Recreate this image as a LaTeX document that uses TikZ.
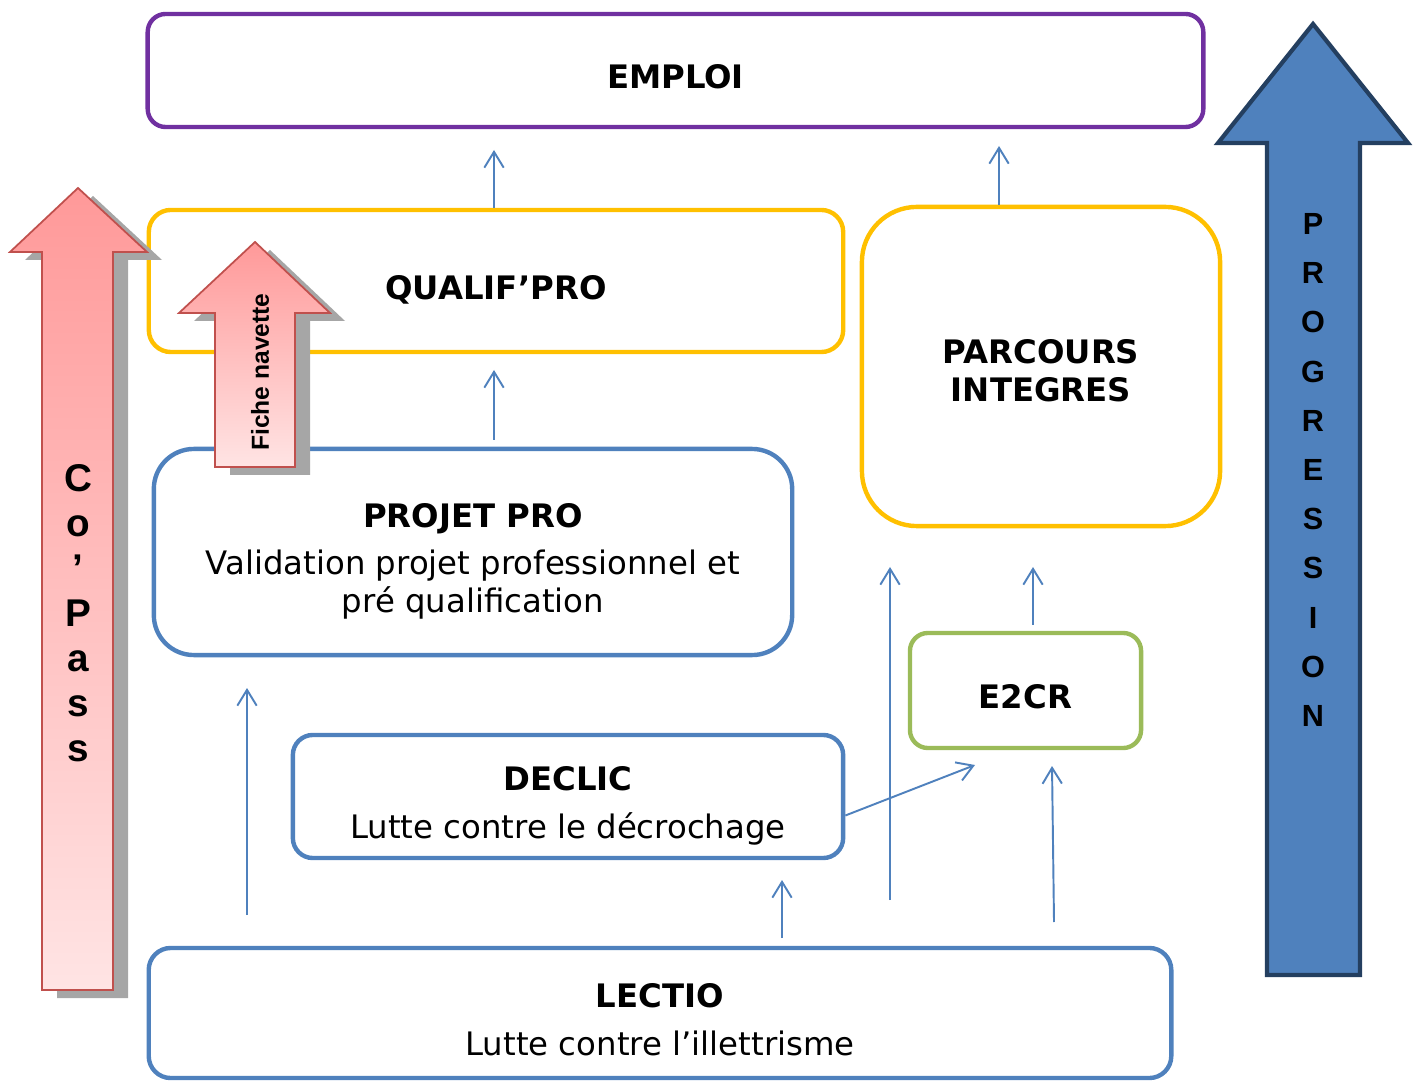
\documentclass[tikz,border=0pt]{standalone}
\usepackage{fontspec}
\setmainfont{DejaVu Sans}
\newfontfamily\arrowfont{Liberation Sans}
\usetikzlibrary{arrows.meta,calc}
\definecolor{job-purple}{HTML}{7030A0}
\definecolor{qualif-yellow}{HTML}{FFC000}
\definecolor{path-blue}{HTML}{4F81BD}
\definecolor{school-green}{HTML}{9BBB59}
\definecolor{pass-red}{HTML}{C0504D}
\definecolor{pass-top}{HTML}{FF9999}
\definecolor{pass-bottom}{HTML}{FFE4E4}
\definecolor{progress-edge}{HTML}{243F60}
\newcommand\boxstrut[1][10.3pt]{\rule{0pt}{#1}}
\tikzset{
    rounded-box/.style = {draw, fill=white, line width=1.25pt, rectangle, align=center, inner sep=0pt, font=\fontsize{9.2}{10.8}\selectfont},
    link-arrow/.style = {draw=path-blue, line width=0.55pt, -{Straight Barb[length=4.5pt,width=5.5pt]}},
    pass-arrow/.style = {draw=pass-red, line width=0.5pt, top color=pass-top, bottom color=pass-bottom},
    pass-shadow/.style = {fill=black!35, draw=none},
    arrow-text/.style = {font=\arrowfont\bfseries, align=center, inner sep=0pt},
}
\begin{document}
\begin{tikzpicture}[x=0.01cm,y=-0.01cm]
\useasboundingbox (0,0) rectangle (1416,1083);

\node[rounded-box, draw=job-purple, rounded corners=0.18cm, minimum width=10.55cm, minimum height=1.13cm] (emploi) at (675.5,70.5) {\boxstrut\textbf{EMPLOI}};
\node[rounded-box, draw=qualif-yellow, rounded corners=0.22cm, minimum width=6.94cm, minimum height=1.42cm] (qualif) at (496,281) {\boxstrut[11.8pt]\textbf{QUALIF’PRO}};
\node[rounded-box, draw=qualif-yellow, rounded corners=0.55cm, minimum width=3.58cm, minimum height=3.19cm] (parcours) at (1041,366.5) {\boxstrut[9pt]\textbf{PARCOURS}\\\textbf{INTEGRES}};
\node[rounded-box, draw=path-blue, rounded corners=0.4cm, minimum width=6.38cm, minimum height=2.06cm] (projet) at (473,552) {\boxstrut[12pt]\textbf{PROJET PRO}\\[2.6pt]Validation projet professionnel et\\pré qualification};
\node[rounded-box, draw=path-blue, rounded corners=0.2cm, minimum width=5.50cm, minimum height=1.23cm] (declic) at (568,796.5) {\boxstrut[12.3pt]\textbf{DECLIC}\\[2.8pt]Lutte contre le décrochage};
\node[rounded-box, draw=school-green, rounded corners=0.18cm, minimum width=2.31cm, minimum height=1.15cm] (e2cr) at (1025.5,690.5) {\boxstrut\textbf{E2CR}};
\node[rounded-box, draw=path-blue, rounded corners=0.22cm, minimum width=10.22cm, minimum height=1.30cm] (lectio) at (660,1013) {\boxstrut[10.8pt]\textbf{LECTIO}\\[2.8pt]Lutte contre l’illettrisme};

\coordinate (qe) at (494,150);
\coordinate (pe) at (999,146);
\coordinate (pq) at (494,370);
\coordinate (ep) at (1033,567);
\coordinate (de) at (975,765);
\coordinate (lp-bot) at (247,915);
\coordinate (lp-top) at (247,688);
\coordinate (ld-bot) at (782,938);
\coordinate (ld-top) at (782,880);
\coordinate (lv-bot) at (890,900);
\coordinate (lv-top) at (890,567);
\coordinate (le-bot) at (1054,922);
\coordinate (le-top) at (1052,766);

\draw[link-arrow] (qualif.north -| qe) -- (qe);
\draw[link-arrow] (parcours.north -| pe) -- (pe);
\draw[link-arrow] ($(projet.north -| pq)+(0,-7)$) -- (pq);
\draw[link-arrow] ($(e2cr.north -| ep)+(0,-6)$) -- (ep);
\draw[link-arrow] ($(declic.east)+(0,19)$) -- (de);
\draw[link-arrow] (lp-bot) -- (lp-top);
\draw[link-arrow] (ld-bot) -- (ld-top);
\draw[link-arrow] (lv-bot) -- (lv-top);
\draw[link-arrow] (le-bot) -- (le-top);

\fill[pass-shadow] (57,998) -- (57,260) -- (25,260) -- (93,196) -- (162,260) -- (128,260) -- (128,998) -- cycle;
\draw[pass-arrow] (42,990) -- (42,252) -- (10,252) -- (78,188) -- (147,252) -- (113,252) -- (113,990) -- cycle;
\node[arrow-text, font=\arrowfont\bfseries\fontsize{11}{12.8}\selectfont] (copass) at (78,613) {C\\o\\’\\P\\a\\s\\s};

\fill[pass-shadow] (230,475) -- (230,321) -- (194,321) -- (270,250) -- (345,321) -- (310,321) -- (310,475) -- cycle;
\draw[pass-arrow] (215,467) -- (215,313) -- (179,313) -- (255,242) -- (330,313) -- (295,313) -- (295,467) -- cycle;
\node[arrow-text, font=\arrowfont\bfseries\fontsize{7}{8}\selectfont, rotate=90] (navette) at (260,372) {Fiche navette};

\draw[fill=path-blue, draw=progress-edge, line width=1.2pt] (1267,975) -- (1267,143) -- (1218,143) -- (1313,24) -- (1408,143) -- (1360,143) -- (1360,975) -- cycle;
\node[arrow-text, font=\arrowfont\bfseries\fontsize{8.7}{14}\selectfont] (progression) at (1313,470) {P\\R\\O\\G\\R\\E\\S\\S\\I\\O\\N};
\end{tikzpicture}
\end{document}
